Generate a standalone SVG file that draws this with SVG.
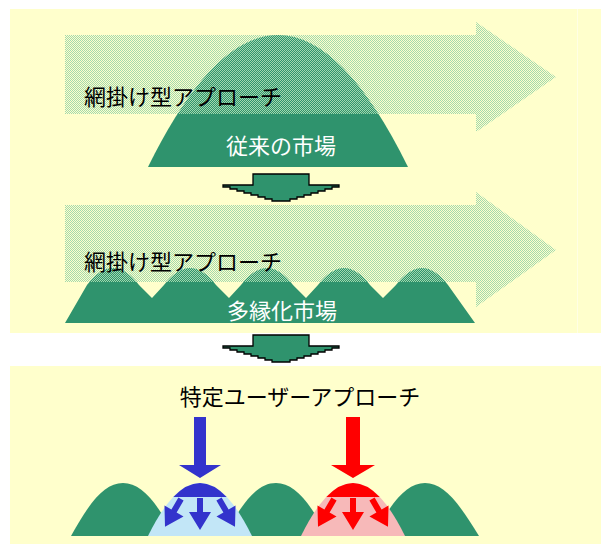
<svg xmlns="http://www.w3.org/2000/svg" width="601" height="544" viewBox="0 0 601 544">
<style>
.panel{fill:#FFFFCC}
.mtn{fill:#2F936D}
.dith{fill:url(#dith)}
.lbl{font-family:"Noto Sans CJK JP","Noto Sans CJK SC",sans-serif;font-size:22px;fill:#000}
.wlbl{font-family:"Noto Sans CJK JP","Noto Sans CJK SC",sans-serif;font-size:22px;fill:#FFFFFF}
.down{fill:#2F936D;stroke:#000;stroke-width:1.3;stroke-linejoin:miter}
.blue{fill:#3333CC}
.red{fill:#FF0000}
</style>
<defs>
<pattern id="dith" width="2" height="2" patternUnits="userSpaceOnUse">
<rect width="1" height="1" fill="#A3D9AE"/>
<rect x="1" y="1" width="1" height="1" fill="#A3D9AE"/>
</pattern>
<polygon id="small" points="-3,0 3,0 3,14 11,14 0,32 -11,14 -3,14"/>
</defs>
<rect width="601" height="544" fill="#FFFFFF"/>
<rect class="panel" x="10" y="9" width="591" height="324"/>
<rect class="panel" x="10" y="366" width="591" height="178"/>
<line x1="577.5" y1="9" x2="577.5" y2="333" stroke="#FFFFE4" stroke-width="1"/>

<g id="traditional-market">
<path class="mtn" d="M148,167 Q278,-97 408,167 Z"/>
<polygon class="dith" points="65,35 476,35 476,22 556,77 476,132 476,114 65,114"/>
<text class="lbl" x="84" y="105">網掛け型アプローチ</text>
<text class="wlbl" x="281" y="154" text-anchor="middle">従来の市場</text>
</g>

<g id="diversified-market">
<path class="mtn" d="M65,323 L87,285 Q113,251 139,285 L152,298 L164,285 Q190,251 216,285 L229,298 L241,285 Q267,251 293,285 L306,298 L318,285 Q344,251 370,285 L383,298 L396,285 Q422,251 448,285 L475,323 Z"/>
<polygon class="dith" points="65,205 476,205 476,192 556,250 476,307 476,282 65,282"/>
<text class="lbl" x="84" y="270">網掛け型アプローチ</text>
<text class="wlbl" x="282" y="319" text-anchor="middle">多縁化市場</text>
</g>

<g id="specific-user">
<text class="lbl" x="300" y="405" text-anchor="middle">特定ユーザーアプローチ</text>
<path class="mtn" d="M71,536 C91,500 105,483 123,483 C141,483 155,500 175,536 Z"/>
<path class="mtn" d="M224,536 C244,500 258,483 276,483 C294,483 308,500 328,536 Z"/>
<path class="mtn" d="M373,536 C393,500 407,483 425,483 C443,483 457,500 479,536 Z"/>
</g>

<g id="blue-segment">
<path d="M148,536 Q200,430 252,536 Z" fill="#C2E6F7"/>
<path class="blue" d="M173.3,497 Q200,469 226.7,497 Z"/>
<polygon class="blue" points="194,417 206,417 206,465 221,465 200,478 179,465 194,465"/>
<use href="#small" class="blue" transform="translate(200,498)"/>
<use href="#small" class="blue" transform="translate(181,499) rotate(30)"/>
<use href="#small" class="blue" transform="translate(219,499) rotate(-30)"/>
</g>

<g id="red-segment">
<path d="M301,536 Q353,430 405,536 Z" fill="#F7B9B9"/>
<path class="red" d="M326.3,497 Q353,469 379.7,497 Z"/>
<polygon class="red" points="346,417 360,417 360,465 375,465 353,478 331,465 346,465"/>
<use href="#small" class="red" transform="translate(353,498)"/>
<use href="#small" class="red" transform="translate(334,499) rotate(30)"/>
<use href="#small" class="red" transform="translate(372,499) rotate(-30)"/>
</g>

<g id="connectors">
<path class="down" d="M253,174 H309 V185 H339 V187 H332 V189 H325 V191 H318 V193 H311 V195 H304 V197 H297 V199 H290 V201 H272 V199 H265 V197 H258 V195 H251 V193 H244 V191 H237 V189 H230 V187 H223 V185 H253 Z"/>
<path class="down" transform="translate(0,161)" d="M253,174 H309 V185 H339 V187 H332 V189 H325 V191 H318 V193 H311 V195 H304 V197 H297 V199 H290 V201 H272 V199 H265 V197 H258 V195 H251 V193 H244 V191 H237 V189 H230 V187 H223 V185 H253 Z"/>
</g>
</svg>
